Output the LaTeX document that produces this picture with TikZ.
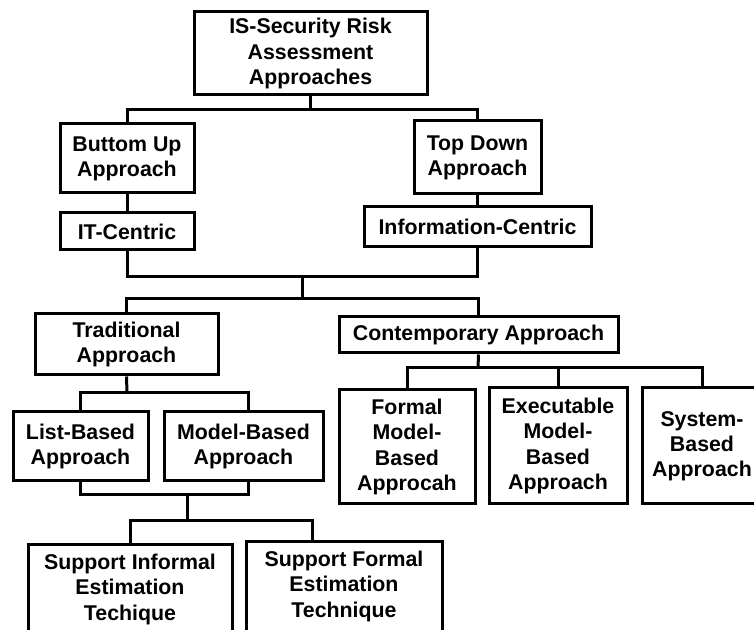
\documentclass[tikz,border=0pt]{standalone}
\usepackage{fontspec}
\setmainfont{Liberation Sans}
\begin{document}
\begin{tikzpicture}[
  x=0.75pt, y=-0.75pt,
  box/.style={draw, line width=2.25pt, align=center, inner sep=0pt,
    font=\fontsize{16}{18.8}\selectfont\bfseries},
  sz/.style 2 args={minimum width=#1*0.75pt, minimum height=#2*0.75pt},
  wire/.style={line width=2.25pt, line join=miter}
]
\useasboundingbox (0,0) rectangle (754,630);
\fill[white] (0,0) rectangle (754,630);
\clip (0,0) rectangle (754,630);

% first level
\node[box, sz={233}{83}] (top) at (310.5,53.5) {IS-Security Risk\\Assessment\\Approaches};
\node[box, sz={134}{69}] (bu) at (127,158.5) {Buttom Up\\Approach};
\node[box, sz={127}{73}] (td) at (477.5,157.5) {Top Down\\Approach};
\node[box, sz={134}{37}] (itc) at (127,231.5) {IT-Centric};
\node[box, sz={227}{40}] (infc) at (477.5,227) {Information-Centric};

% second level
\node[box, sz={183}{61}] (trad) at (126.5,344.5) {Traditional\\Approach};
\node[box, sz={279}{36}] (cont) at (478.5,335) {Contemporary Approach};

% traditional branch
\node[box, sz={135}{69}] (list) at (80.5,446.5) {List-Based\\Approach};
\node[box, sz={159}{69}] (model) at (243.5,446.5) {Model-Based\\Approach};
\node[box, sz={204}{100}, text depth=11.6pt] (sinf) at (130,595) {Support Informal\\Estimation\\Techique};
\node[box, sz={196}{100}, text depth=11.6pt] (sfor) at (344,592) {Support Formal\\Estimation\\Technique};

% contemporary branch
\node[box, sz={136}{114}] (formal) at (407,447) {Formal\\Model-\\Based\\Approcah};
\node[box, sz={138}{116}] (exec) at (558,446) {Executable\\Model-\\Based\\Approach};
\node[box, sz={120}{116}] (sys) at (702,446) {System-\\Based\\Approach};

% junction points
\coordinate (j1) at (310,110);
\coordinate (m2) at (302.5,277);
\coordinate (m3) at (302.5,299);
\coordinate (j4) at (127,393);
\coordinate (m5) at (187.7,495);
\coordinate (m6) at (187.7,521);
\coordinate (j7) at (478,368);

% connectors
\draw[wire] (top.south) -- (top.south |- j1);
\draw[wire] (bu.north) -- (bu.north |- j1) -- (td.north |- j1) -- (td.north);
\draw[wire] (bu.south) -- (itc.north);
\draw[wire] (td.south) -- (infc.north);
\draw[wire] (itc.south) -- (itc.south |- m2) -- (infc.south |- m2) -- (infc.south);
\draw[wire] (m2) -- (m3);
\draw[wire] (trad.north) -- (trad.north |- m3) -- (cont.north |- m3) -- (cont.north);

\draw[wire] (trad.south) -- (j4);
\draw[wire] (list.north) -- (list.north |- j4) -- ([xshift=3.4pt]model.north |- j4) -- ([xshift=3.4pt]model.north);
\draw[wire] (list.south) -- (list.south |- m5) -- ([xshift=3.4pt]model.south |- m5) -- ([xshift=3.4pt]model.south);
\draw[wire] (m5) -- (m6);
\draw[wire] (sinf.north) -- (sinf.north |- m6) -- ([xshift=-24pt]sfor.north |- m6) -- ([xshift=-24pt]sfor.north);

\draw[wire] (cont.south) -- (j7);
\draw[wire] (formal.north) -- (formal.north |- j7) -- (sys.north |- j7) -- (sys.north);
\draw[wire] (exec.north) -- (exec.north |- j7);
\end{tikzpicture}
\end{document}
